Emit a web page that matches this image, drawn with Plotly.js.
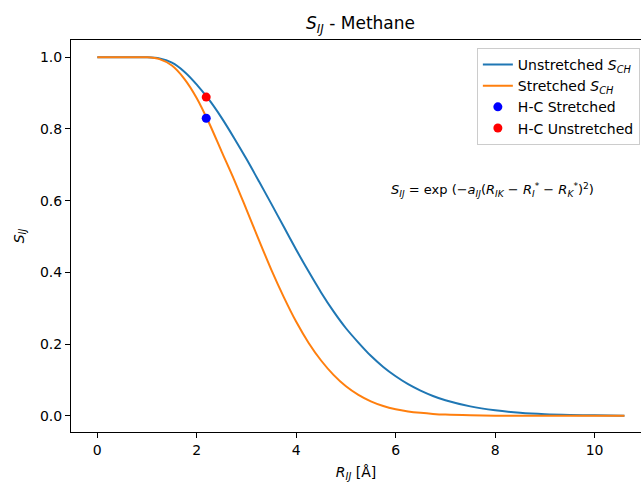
<!DOCTYPE html>
<html>
<head>
<meta charset="utf-8">
<script src="https://cdn.plot.ly/plotly-3.0.1.min.js"></script>
<style>
  html, body { margin: 0; padding: 0; background: #ffffff; }
  #chart { width: 641px; height: 482px; }
</style>
</head>
<body>
<div id="chart"></div>
<script>
// Overlap function S_IJ versus C-H distance R_IJ for methane
const rValues = [0, 0.5, 1.0, 1.25, 1.5, 1.75, 2.0, 2.25, 2.5, 2.75, 3.0, 3.25, 3.5, 3.75,
                 4.0, 4.25, 4.5, 4.75, 5.0, 5.25, 5.5, 5.75, 6.0, 6.25, 6.5, 6.75, 7.0,
                 7.5, 8.0, 8.5, 9.0, 9.5, 10.0, 10.6];

const sUnstretched = [1.0, 1.0, 1.0, 0.997, 0.985, 0.960, 0.924, 0.881, 0.831, 0.775, 0.716,
                      0.654, 0.591, 0.527, 0.463, 0.402, 0.344, 0.291, 0.244, 0.204, 0.167,
                      0.136, 0.110, 0.088, 0.070, 0.055, 0.043, 0.026, 0.015, 0.008, 0.004,
                      0.002, 0.001, 0.0];

const sStretched = [1.0, 1.0, 1.0, 0.995, 0.977, 0.940, 0.886, 0.816, 0.737, 0.659, 0.575,
                    0.490, 0.407, 0.331, 0.262, 0.203, 0.154, 0.114, 0.082, 0.058, 0.040,
                    0.027, 0.018, 0.012, 0.008, 0.005, 0.003, 0.001, 0.0, 0.0, 0.0,
                    0.0, 0.0, 0.0];

// Equilibrium H-C points
const hcStretchedR = [2.19];
const hcStretchedS = [0.830];
const hcUnstretchedR = [2.19];
const hcUnstretchedS = [0.889];

const FONT = 'DejaVu Sans, sans-serif';

const traces = [
  {
    x: rValues, y: sUnstretched, type: 'scatter', mode: 'lines',
    name: 'Unstretched <i>S</i><sub><i>CH</i></sub>',
    line: { color: '#1f77b4', width: 2, shape: 'spline', smoothing: 0.8 }
  },
  {
    x: rValues, y: sStretched, type: 'scatter', mode: 'lines',
    name: 'Stretched <i>S</i><sub><i>CH</i></sub>',
    line: { color: '#ff7f0e', width: 2, shape: 'spline', smoothing: 0.8 }
  },
  {
    x: hcStretchedR, y: hcStretchedS, type: 'scatter', mode: 'markers',
    name: 'H-C Stretched',
    marker: { color: '#0000ff', size: 9 }
  },
  {
    x: hcUnstretchedR, y: hcUnstretchedS, type: 'scatter', mode: 'markers',
    name: 'H-C Unstretched',
    marker: { color: '#ff0000', size: 9 }
  }
];

const layout = {
  width: 641,
  height: 482,
  paper_bgcolor: '#ffffff',
  plot_bgcolor: '#ffffff',
  font: { family: FONT, size: 14, color: '#000000' },
  margin: { l: 71, r: 0, t: 40, b: 50 },
  title: {
    text: '<i>S</i><sub><i>IJ</i></sub> - Methane',
    font: { family: FONT, size: 17, color: '#000000' },
    xref: 'container', x: 0.5624, xanchor: 'center',
    yref: 'container', y: 0.952, yanchor: 'middle'
  },
  xaxis: {
    range: [-0.529, 10.933],
    tickmode: 'array',
    tickvals: [0, 2, 4, 6, 8, 10],
    ticktext: ['0', '2', '4', '6', '8', '10'],
    ticks: 'outside', ticklen: 5, tickwidth: 1, tickcolor: '#000000',
    showgrid: false, zeroline: false,
    showline: true, linecolor: '#000000', linewidth: 1, mirror: true,
    tickfont: { family: FONT, size: 14, color: '#000000' },
    title: {
      text: '<i>R</i><sub><i>IJ</i></sub> [Å]',
      font: { family: FONT, size: 14, color: '#000000' },
      standoff: 11
    }
  },
  yaxis: {
    range: [-0.0455, 1.0483],
    tickmode: 'array',
    tickvals: [0, 0.2, 0.4, 0.6, 0.8, 1.0],
    ticktext: ['0.0', '0.2', '0.4', '0.6', '0.8', '1.0'],
    ticks: 'outside', ticklen: 5, tickwidth: 1, tickcolor: '#000000',
    showgrid: false, zeroline: false,
    showline: true, linecolor: '#000000', linewidth: 1, mirror: false,
    tickfont: { family: FONT, size: 14, color: '#000000' },
    title: {
      text: '<i>S</i><sub><i>IJ</i></sub>',
      font: { family: FONT, size: 14, color: '#000000' },
      standoff: 12
    }
  },
  legend: {
    x: 0.998, xanchor: 'right',
    y: 0.98, yanchor: 'top',
    bgcolor: 'rgba(255,255,255,0.8)',
    bordercolor: '#cccccc', borderwidth: 1,
    font: { family: FONT, size: 14, color: '#000000' },
    itemwidth: 30
  },
  showlegend: true,
  annotations: [
    {
      x: 5.866, y: 0.63, xref: 'x', yref: 'y',
      xanchor: 'left', yanchor: 'middle', showarrow: false,
      text: '<i>S</i><sub><i>IJ</i></sub> = exp (−<i>a</i><sub><i>IJ</i></sub>(<i>R</i><sub><i>IK</i></sub> − <i>R</i><sub><i>I</i></sub><sup>*</sup> − <i>R</i><sub><i>K</i></sub><sup>*</sup>)<sup>2</sup>)',
      font: { family: FONT, size: 13, color: '#000000' }
    }
  ]
};

Plotly.newPlot('chart', traces, layout, { displayModeBar: false, staticPlot: true });
</script>
</body>
</html>
